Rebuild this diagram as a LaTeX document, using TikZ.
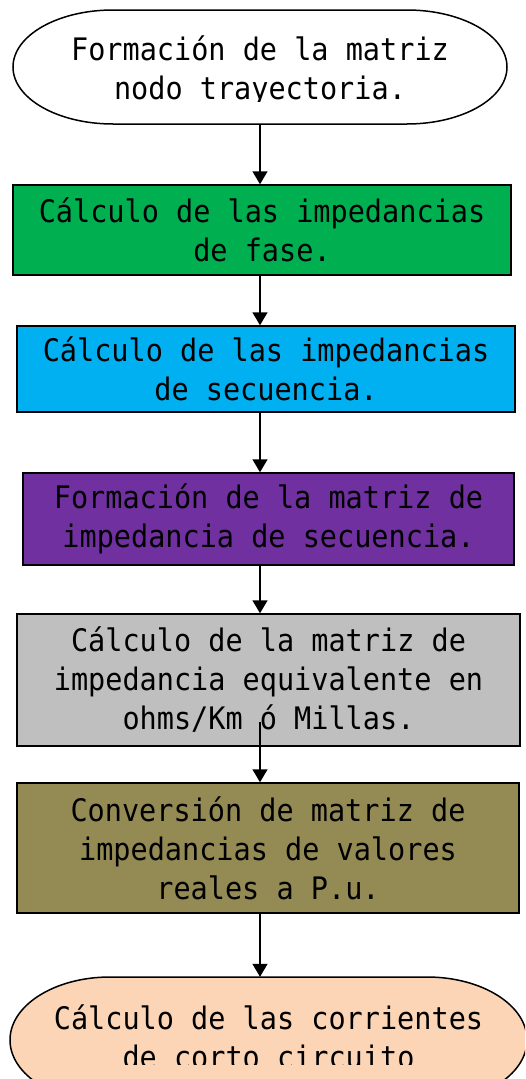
\documentclass[tikz,border=0pt]{standalone}
\usepackage{fontspec}
\newfontfamily\dmono[FakeStretch=0.92]{DejaVu Sans Mono}
\usetikzlibrary{arrows.meta}
\definecolor{cgreen}{HTML}{00B050}
\definecolor{cblue}{HTML}{00B0F0}
\definecolor{cpurple}{HTML}{7030A0}
\definecolor{cgray}{HTML}{BFBFBF}
\definecolor{colive}{HTML}{948A54}
\definecolor{cpeach}{HTML}{FBD5B5}
\tikzset{
  txt/.style={font=\dmono\fontsize{31}{39}\selectfont, align=center, inner sep=0pt, text=black},
  procbox/.style={txt, draw=black, line width=1.5pt, rectangle},
  termshape/.style={draw=black, line width=1.5pt},
  flow/.style={line width=1.5pt, -{Triangle[width=15pt,length=13pt]}}
}
\begin{document}
\begin{tikzpicture}[x=1pt,y=1pt]
\clip (0,0) rectangle (525,-1079);
\fill[white] (0,0) rectangle (525,-1079);
% top terminator
\path[termshape, fill=white] (113,-10) -- (407,-10)
  arc[start angle=90, end angle=-90, x radius=100pt, y radius=57pt]
  -- (113,-124)
  arc[start angle=270, end angle=90, x radius=100pt, y radius=57pt] -- cycle;
\begin{scope}
\clip (0,-10) rectangle (525,-101);
\node[txt, minimum width=494pt, minimum height=106pt] (n1) at (260,-71)
  {Formación de la matriz\\nodo trayectoria.};
\end{scope}
\node[procbox, fill=cgreen, minimum width=498pt, minimum height=90pt] (n2) at (262,-230)
  {Cálculo de las impedancias\\de fase.};
\node[procbox, fill=cblue, minimum width=498pt, minimum height=86pt] (n3) at (266,-369)
  {Cálculo de las impedancias\\de secuencia.};
\node[procbox, fill=cpurple, minimum width=491pt, minimum height=92pt] (n4) at (268.5,-519)
  {Formación de la matriz de\\impedancia de secuencia.};
\node[procbox, fill=cgray, minimum width=503pt, minimum height=132pt] (n5) at (268.5,-680)
  {Cálculo de la matriz de\\impedancia equivalente en\\ohms/Km ó Millas.};
\node[procbox, fill=colive, minimum width=502pt, minimum height=130pt] (n6) at (268,-848)
  {Conversión de matriz de\\impedancias de valores\\reales a P.u.};
% bottom terminator
\path[termshape, fill=cpeach] (110,-977) -- (427,-977)
  arc[start angle=90, end angle=-90, x radius=100pt, y radius=63pt]
  -- (110,-1103)
  arc[start angle=270, end angle=90, x radius=100pt, y radius=63pt] -- cycle;
\begin{scope}
\clip (0,-977) rectangle (525,-1064);
\node[txt, minimum width=517pt, minimum height=120pt] (n7) at (268.5,-1037)
  {Cálculo de las corrientes\\de corto circuito};
\end{scope}
% connectors
\coordinate (c5) at (260,-722);
\draw[flow] (n1.south -| c5) -- (n2.north -| c5);
\draw[flow] (n2.south -| c5) -- (n3.north -| c5);
\draw[flow] (n3.south -| c5) -- (n4.north -| c5);
\draw[flow] (n4.south -| c5) -- (n5.north -| c5);
\draw[flow] (c5) -- (n6.north -| c5);
\draw[flow] (n6.south -| c5) -- (n7.north -| c5);
\end{tikzpicture}
\end{document}
